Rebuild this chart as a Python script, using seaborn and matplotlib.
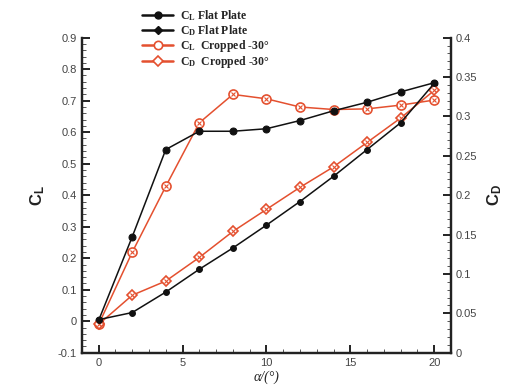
import matplotlib
matplotlib.use("Agg")
import matplotlib.pyplot as plt
from matplotlib.ticker import MultipleLocator, FuncFormatter
from matplotlib.lines import Line2D
import seaborn as sns
import pandas as pd

# Angle of attack (deg)
alpha = [0, 2, 4, 6, 8, 10, 12, 14, 16, 18, 20]

# Flat plate
cl_flat = [0.003, 0.268, 0.545, 0.603, 0.603, 0.611, 0.637, 0.668, 0.695, 0.728, 0.757]
cd_flat = [0.042, 0.051, 0.077, 0.106, 0.133, 0.162, 0.192, 0.224, 0.258, 0.292, 0.342]

# Cropped -30 deg
cl_crop = [-0.01, 0.219, 0.428, 0.630, 0.720, 0.706, 0.680, 0.672, 0.674, 0.686, 0.702]
cd_crop = [0.036, 0.073, 0.091, 0.121, 0.154, 0.182, 0.210, 0.236, 0.267, 0.298, 0.333]

labels = [r"$\mathbf{C_L}$ Flat Plate", r"$\mathbf{C_D}$ Flat Plate",
          r"$\mathbf{C_L}$  Cropped -30°", r"$\mathbf{C_D}$  Cropped -30°"]

sns.set_theme(style="white")
plt.rcParams["font.family"] = ["Liberation Sans", "DejaVu Sans"]
plt.rcParams["mathtext.fontset"] = "custom"
plt.rcParams["mathtext.bf"] = "Liberation Serif:bold"
plt.rcParams["mathtext.sf"] = "Liberation Sans:bold"
plt.rcParams["mathtext.it"] = "Liberation Serif:italic"

RED = "#e4502f"
BLACK = "#111111"
TICK_C = "#444444"

df = pd.DataFrame({"alpha": alpha, "cl_flat": cl_flat, "cd_flat": cd_flat,
                   "cl_crop": cl_crop, "cd_crop": cd_crop})

fig = plt.figure(figsize=(5.25, 3.87), dpi=100)
ax = fig.add_axes([0.156, 0.0886, 0.703, 0.814])
ax2 = ax.twinx()

# Lift on the left axis
sns.lineplot(data=df, x="alpha", y="cl_flat", ax=ax, color=BLACK, lw=1.1,
             marker="o", markersize=5, markeredgecolor=BLACK, zorder=4)
sns.lineplot(data=df, x="alpha", y="cl_crop", ax=ax, color=RED, lw=1.1,
             marker="o", markersize=6.5, markerfacecolor="white",
             markeredgecolor=RED, markeredgewidth=1.2, zorder=3)
ax.plot(df["alpha"], df["cl_crop"], ls="none", marker="x", ms=3.2,
        mec=RED, mew=0.8, zorder=3)

# Drag on the right axis
sns.lineplot(data=df, x="alpha", y="cd_flat", ax=ax2, color=BLACK, lw=1.1,
             marker="o", markersize=4.2, markeredgecolor=BLACK, zorder=4)
sns.lineplot(data=df, x="alpha", y="cd_crop", ax=ax2, color=RED, lw=1.1,
             marker="D", markersize=4.8, markerfacecolor="white",
             markeredgecolor=RED, markeredgewidth=1.2, zorder=3)
ax2.plot(df["alpha"], df["cd_crop"], ls="none", marker="x", ms=3.2,
         mec=RED, mew=0.8, zorder=3)

ax.set_xlim(-1, 21)
ax.set_ylim(-0.1, 0.9)
ax2.set_ylim(0, 0.4)

ax.xaxis.set_major_locator(MultipleLocator(5))
ax.xaxis.set_minor_locator(MultipleLocator(1))
ax.yaxis.set_major_locator(MultipleLocator(0.1))
ax.yaxis.set_minor_locator(MultipleLocator(0.02))
ax2.yaxis.set_major_locator(MultipleLocator(0.05))
ax2.yaxis.set_minor_locator(MultipleLocator(0.01))

fmt = FuncFormatter(lambda v, p: "0" if abs(v) < 1e-9 else f"{v:g}")
ax.yaxis.set_major_formatter(fmt)
ax2.yaxis.set_major_formatter(fmt)
ax.xaxis.set_major_formatter(FuncFormatter(lambda v, p: f"{v:g}"))

for a in (ax, ax2):
    for side in ("left", "right", "bottom"):
        a.spines[side].set_linewidth(1.6)
        a.spines[side].set_color("#222222")
    a.spines["top"].set_visible(False)
    a.tick_params(which="major", direction="in", length=6, width=1.4,
                  colors="#222222", labelcolor=TICK_C, labelsize=8)
    a.tick_params(which="minor", direction="in", length=3, width=0.7,
                  colors="#555555")
ax.tick_params(axis="y", which="both", right=False)
ax2.tick_params(axis="y", which="both", left=False, labelright=True)
ax.tick_params(axis="x", which="both", top=False, bottom=True)
ax2.tick_params(axis="x", which="both", top=False, bottom=False)

ax.set_xlabel("α/(°)", fontsize=10, fontstyle="italic",
              family=["Liberation Serif", "DejaVu Serif"], color="#222222",
              labelpad=2)
ax.set_ylabel(r"$\mathsf{C_L}$", fontsize=12, color="#222222", labelpad=8)
ax2.set_ylabel(r"$\mathsf{C_D}$", fontsize=12, color="#222222", labelpad=6)

handles = [
    Line2D([], [], color=BLACK, lw=1.8, marker="o", ms=5, mec=BLACK),
    Line2D([], [], color=BLACK, lw=1.8, marker="D", ms=4, mec=BLACK),
    Line2D([], [], color=RED, lw=1.8, marker="o", ms=6, mfc="white", mec=RED, mew=1.2),
    Line2D([], [], color=RED, lw=1.8, marker="D", ms=5, mfc="white", mec=RED, mew=1.2),
]
fig.legend(handles, labels, loc="upper left", bbox_to_anchor=(0.262, 0.99),
           frameon=False, handlelength=2.6, handletextpad=0.6,
           labelspacing=0.0, borderaxespad=0,
           prop={"family": ["Liberation Serif", "DejaVu Serif"],
                 "weight": "bold", "size": 8.5})

fig.savefig("out.png", dpi=100)
